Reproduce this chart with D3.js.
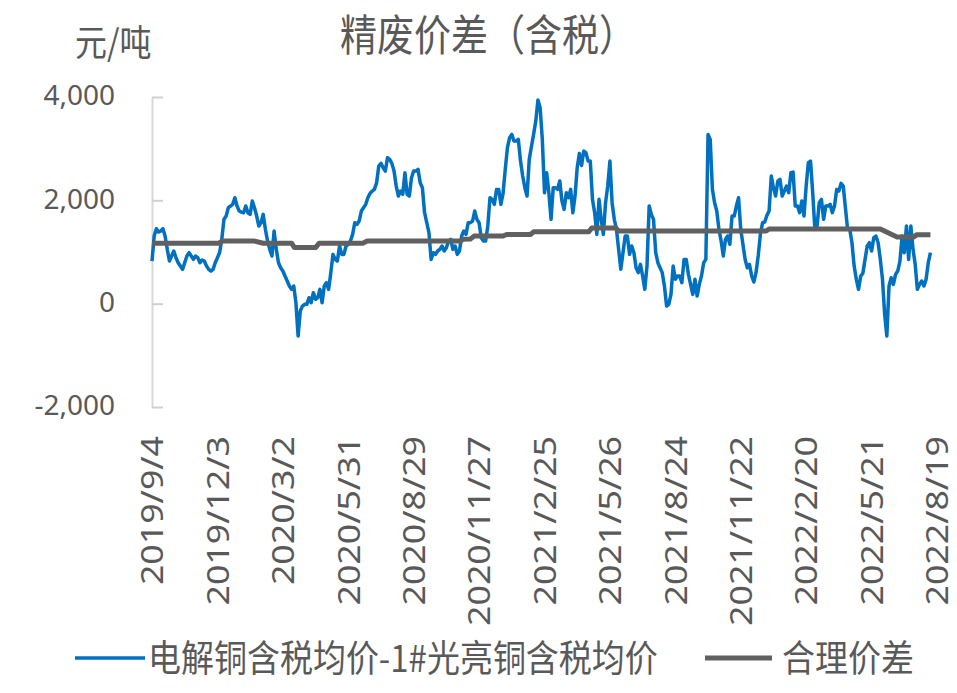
<!DOCTYPE html>
<html><head><meta charset="utf-8">
<script src="https://cdn.jsdelivr.net/npm/d3@7"></script>
<style>body{margin:0;background:#fff}svg{display:block}</style>
</head><body>
<svg id="chart" width="957" height="693"></svg>
<script>
// ---------- data ----------
const chartTitle = "精废价差（含税）";
const unitLabel = "元/吨";
const seriesNames = ["电解铜含税均价-1#光亮铜含税均价", "合理价差"];
const spreadStart = "2019/9/4";
const spreadStepDays = 3;
const spreadValues = [
  825,1309,1451,1386,1406,1451,1309,1051,825,922,
  1019,890,793,729,664,793,922,987,922,857,
  922,890,793,845,825,729,664,632,664,793,
  890,987,1245,1632,1696,1857,1890,1922,2051,1890,
  1793,1773,1760,1890,1760,1728,1986,1857,1696,1502,
  1567,1728,1438,1212,1051,922,1406,1051,793,696,
  632,535,438,342,277,342,19,-626,-142,-46,
  -13,-13,116,19,213,84,116,277,19,342,
  406,277,600,954,857,825,1116,954,954,1116,
  1148,1212,1341,1567,1535,1599,1793,1857,1922,2051,
  2135,2180,2212,2341,2664,2715,2631,2567,2825,2793,
  2715,2567,2277,2083,2180,2115,2535,2115,2083,2438,
  2567,2567,2599,2341,2244,1760,1567,1374,857,987,
  954,1019,1051,1116,1019,1083,1212,1245,1051,1116,
  954,1019,1309,1406,1341,1567,1567,1599,1793,1632,
  1567,1277,1212,1212,1503,2051,2019,1922,2212,2212,
  1922,2135,2599,3018,3212,3276,3147,3147,3180,2760,
  2470,2244,2083,2793,3038,3276,3534,3941,3792,3180,
  2148,2535,2148,1632,2244,2244,2212,2373,1986,1825,
  2148,2051,2212,1760,2083,2631,2909,2676,2954,2922,
  2760,2760,2019,1761,1341,2019,1632,1341,1954,2277,
  2760,1954,1632,1438,1051,664,987,1309,1309,954,
  1116,987,696,600,761,535,277,728,1890,1728,
  1632,987,793,696,600,342,-46,-13,180,728,
  471,535,535,406,857,857,567,374,180,471,
  148,374,535,793,857,3276,3180,2212,1954,1793,
  1438,1212,922,1245,1309,1148,1696,1696,1890,2051,
  1438,1148,857,696,761,535,419,600,922,1341,
  1567,1580,1709,1793,2470,2244,2083,2373,2406,2083,
  2180,2277,2148,2535,2547,1890,1890,1761,1986,1696,
  2277,2728,2760,2148,1438,1503,1954,2019,1632,1890,
  1890,1922,1761,1890,2212,2180,2328,2277,1857,1438,
  1438,1180,728,471,277,535,587,857,1116,1180,
  1019,1277,1309,1180,857,471,-207,-626,342,503,
  374,567,632,825,1309,987,1503,857,1503,1051,
  761,277,374,438,342,471,793,987
];
const refDates = [
  "2019/9/4","2019/12/5","2019/12/10","2020/1/22","2020/2/4","2020/3/14","2020/3/18","2020/4/16",
  "2020/4/21","2020/6/20","2020/6/26","2020/11/1","2020/11/5","2020/11/15","2020/11/20","2020/12/30",
  "2021/1/4","2021/2/6","2021/2/10","2021/4/27","2021/5/1","2021/6/3","2021/6/7","2021/12/27",
  "2021/12/31","2022/6/2","2022/6/25","2022/7/18","2022/7/22","2022/8/10"
];
const refValues = [
  1170,1170,1215,1215,1170,1170,1085,1085,
  1170,1170,1211,1211,1245,1250,1308,1308,
  1340,1340,1390,1390,1465,1465,1405,1405,
  1445,1445,1290,1290,1335,1335
];
const xTickLabels = ["2019/9/4","2019/12/3","2020/3/2","2020/5/31","2020/8/29","2020/11/27",
  "2021/2/25","2021/5/26","2021/8/24","2021/11/22","2022/2/20","2022/5/21","2022/8/19"];
const yTickValues = [-2000, 0, 2000, 4000];
const seriesColors = ["#0070C0", "#606060"];

// ---------- drawing ----------
const parse = d3.utcParse("%Y/%m/%d");
const textColor = "#595959";
const numFont = "'Noto Sans', 'Liberation Sans', sans-serif";
const cjkFont = "'Noto Sans CJK SC', 'Noto Sans', sans-serif";
const numFormat = d3.formatLocale({ decimal: ".", thousands: ",", grouping: [3], currency: ["", ""], minus: "-" }).format(",");

const svg = d3.select("#chart");
const tickDates = xTickLabels.map(parse);
const x = d3.scaleUtc().domain([tickDates[0], tickDates[tickDates.length - 1]]).range([152, 937]);
const y = d3.scaleLinear().domain([-2000, 4000]).range([407, 97]);

const start = parse(spreadStart);
const spread = spreadValues.map((v, i) => ({ date: d3.utcDay.offset(start, i * spreadStepDays), value: v }));
const ref = refDates.map((d, i) => ({ date: parse(d), value: refValues[i] }));

// title
svg.append("text")
  .attr("transform", "translate(488,51) scale(1,1.16)")
  .attr("text-anchor", "middle")
  .style("font-family", cjkFont).style("font-size", "37px").style("fill", textColor)
  .text(chartTitle);

// unit
svg.append("text")
  .attr("transform", "translate(75,56) scale(1,1.12)")
  .style("font-family", cjkFont).style("font-size", "32px").style("fill", textColor)
  .text(unitLabel);

// y axis
const yAxis = svg.append("g").attr("transform", "translate(152,0)")
  .call(d3.axisLeft(y).tickValues(yTickValues).tickSize(-11).tickSizeOuter(0).tickPadding(37)
    .tickFormat(numFormat));
yAxis.select(".domain").attr("stroke", "#d9d9d9").attr("stroke-width", 2);
yAxis.selectAll(".tick line").attr("stroke", "#d0d0d0").attr("stroke-width", 2);
yAxis.selectAll(".tick text")
  .style("font-family", numFont).style("font-size", "28px").style("fill", textColor)
  .attr("dy", "0.28em");

// x axis labels
const xAxis = svg.append("g").attr("transform", "translate(0,407)")
  .call(d3.axisBottom(x).tickValues(tickDates).tickSize(0)
    .tickFormat((d, i) => xTickLabels[i]));
xAxis.select(".domain").remove();
xAxis.selectAll(".tick text")
  .attr("x", 0).attr("y", 0).attr("dy", "0.36em")
  .attr("transform", "translate(0,29) rotate(-90) scale(1.19,1)")
  .attr("text-anchor", "end")
  .style("font-family", numFont).style("font-size", "30px").style("fill", textColor);

// lines
const line = d3.line().x(d => x(d.date)).y(d => y(d.value));
svg.append("path").datum(spread)
  .attr("fill", "none").attr("stroke", seriesColors[0]).attr("stroke-width", 3.5)
  .attr("stroke-linejoin", "round").attr("d", line);
svg.append("path").datum(ref)
  .attr("fill", "none").attr("stroke", seriesColors[1]).attr("stroke-width", 5)
  .attr("stroke-linejoin", "round").attr("d", line);

// legend
const legend = [
  { x1: 75, x2: 145, tx: 148, w: 3.5 },
  { x1: 705, x2: 772, tx: 782, w: 5 }
];
legend.forEach((L, i) => {
  svg.append("line").attr("x1", L.x1).attr("x2", L.x2).attr("y1", 658).attr("y2", 658)
    .attr("stroke", seriesColors[i]).attr("stroke-width", L.w);
  svg.append("text")
    .attr("transform", `translate(${L.tx},672) scale(1,1.12)`)
    .style("font-family", cjkFont).style("font-size", "33px").style("fill", textColor)
    .text(seriesNames[i]);
});
</script>
</body></html>
